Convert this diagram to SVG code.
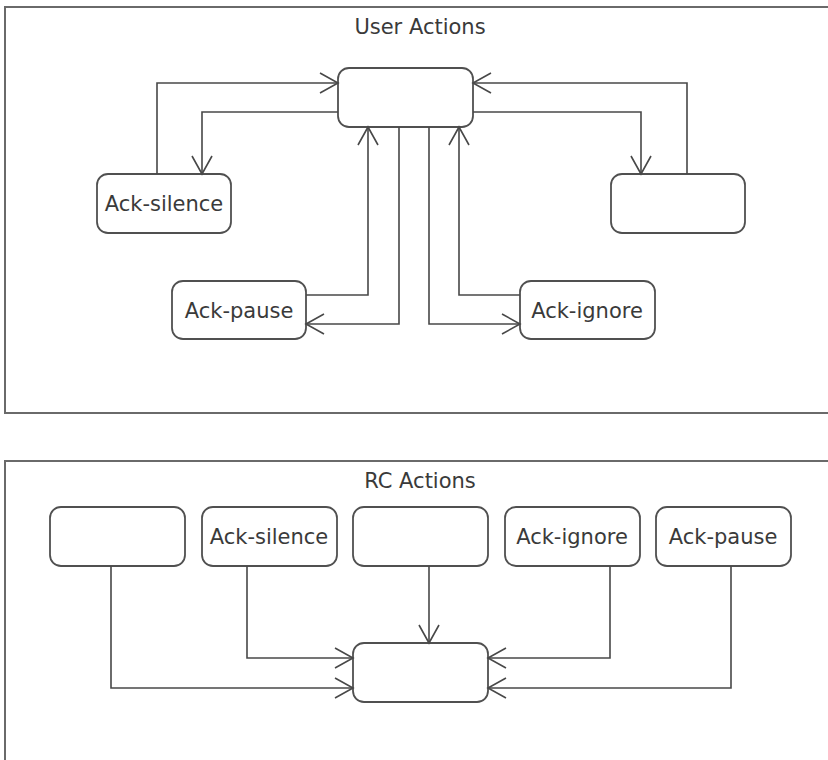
<svg xmlns="http://www.w3.org/2000/svg" width="828" height="760" viewBox="0 0 828 760">
<style>
.frame{fill:none;stroke:#6a6a6a;stroke-width:2}
.node rect{fill:#fff;stroke:#505050;stroke-width:1.8}
.lbl{font-family:"DejaVu Sans",sans-serif;font-size:21px;fill:#3a3a3a;text-anchor:middle}
.title{font-family:"DejaVu Sans",sans-serif;font-size:21px;fill:#3a3a3a;text-anchor:middle}
.conn path{fill:none;stroke:#484848;stroke-width:1.6;marker-end:url(#arr)}
</style>
<defs>
<marker id="arr" markerUnits="userSpaceOnUse" viewBox="-20 -12 22 24" refX="0" refY="0" markerWidth="22" markerHeight="24" orient="auto">
<path d="M-18,-10 L0,0 L-18,10" fill="none" stroke="#484848" stroke-width="1.6"/>
</marker>
</defs>
<rect width="828" height="760" fill="#fff"/>
<g id="user-actions">
<rect class="frame" x="5" y="7" width="840" height="406"/>
<text class="title" x="420" y="34">User Actions</text>
</g>
<g id="rc-actions">
<rect class="frame" x="5" y="461" width="840" height="320"/>
<text class="title" x="420" y="488">RC Actions</text>
</g>
<g id="u-center" class="node"><rect x="338" y="68" width="135" height="59" rx="11"/></g>
<g id="u-ack-silence" class="node"><rect x="97" y="174" width="134" height="59" rx="11"/><text class="lbl" x="164" y="211">Ack-silence</text></g>
<g id="u-right" class="node"><rect x="611" y="174" width="134" height="59" rx="11"/></g>
<g id="u-ack-pause" class="node"><rect x="172" y="281" width="134" height="58" rx="11"/><text class="lbl" x="239" y="318">Ack-pause</text></g>
<g id="u-ack-ignore" class="node"><rect x="520" y="281" width="135" height="58" rx="11"/><text class="lbl" x="587" y="318">Ack-ignore</text></g>
<g id="r-box1" class="node"><rect x="50" y="507" width="135" height="59" rx="11"/></g>
<g id="r-ack-silence" class="node"><rect x="202" y="507" width="135" height="59" rx="11"/><text class="lbl" x="269" y="544">Ack-silence</text></g>
<g id="r-box3" class="node"><rect x="353" y="507" width="135" height="59" rx="11"/></g>
<g id="r-ack-ignore" class="node"><rect x="505" y="507" width="135" height="59" rx="11"/><text class="lbl" x="572" y="544">Ack-ignore</text></g>
<g id="r-ack-pause" class="node"><rect x="656" y="507" width="135" height="59" rx="11"/><text class="lbl" x="723" y="544">Ack-pause</text></g>
<g id="r-center" class="node"><rect x="353" y="643" width="135" height="59" rx="11"/></g>
<g id="connectors" class="conn">
<path d="M157,174 V83 H338"/>
<path d="M338,112 H202 V174"/>
<path d="M687,174 V83 H473"/>
<path d="M473,112 H641 V174"/>
<path d="M306,295 H368 V127"/>
<path d="M399,127 V324 H306"/>
<path d="M429,127 V324 H520"/>
<path d="M520,295 H459 V127"/>
<path d="M111,566 V688 H353"/>
<path d="M247,566 V658 H353"/>
<path d="M429,566 V643"/>
<path d="M610,566 V658 H488"/>
<path d="M731,566 V688 H488"/>
</g>
</svg>
